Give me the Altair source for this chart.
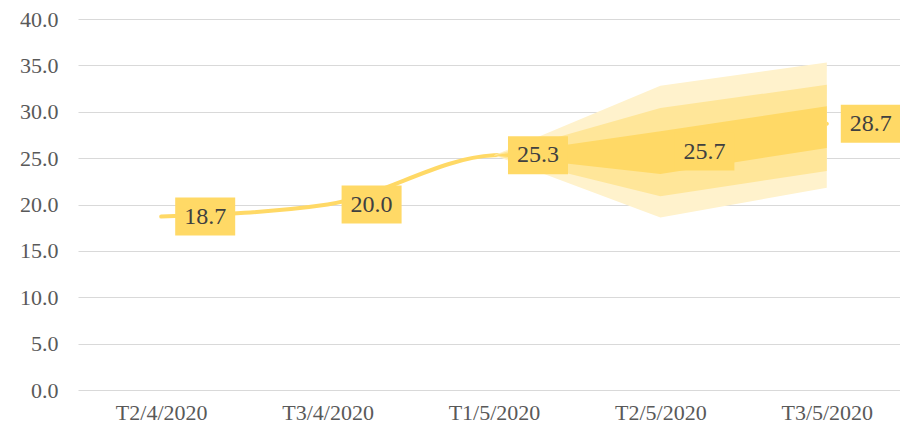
import json
import altair as alt
import pandas as pd

categories = ["T2/4/2020", "T3/4/2020", "T1/5/2020", "T2/5/2020", "T3/5/2020"]
values = [18.7, 20.0, 25.3, 25.7, 28.7]

# fan chart bands (start at T1/5/2020)
fan_idx = [2, 3, 4]
light_lo = [25.3, 18.6, 21.8]
light_hi = [25.3, 32.8, 35.3]
mid_lo = [25.3, 20.9, 23.6]
mid_hi = [25.3, 30.4, 32.9]
dark_lo = [25.3, 23.3, 26.1]
dark_hi = [25.3, 27.9, 30.6]

C_DARK = "#FFD966"
C_MID = "#FFE699"
C_LIGHT = "#FFF2CC"

df = pd.DataFrame({"i": list(range(len(categories))), "cat": categories, "v": values})
fan = pd.DataFrame({
    "i": fan_idx,
    "llo": light_lo, "lhi": light_hi,
    "mlo": mid_lo, "mhi": mid_hi,
    "dlo": dark_lo, "dhi": dark_hi,
})

label_expr = json.dumps(categories) + "[datum.value]"
FONT = "Liberation Serif"

xscale = alt.Scale(domain=[-0.5, 4.44], nice=False, zero=False)
yscale = alt.Scale(domain=[0, 40], nice=False)

x_axis = alt.Axis(values=[0, 1, 2, 3, 4], labelExpr=label_expr, grid=False, domain=False,
                  ticks=False, title=None, labelFont=FONT, labelFontSize=22,
                  labelColor="#595959", labelPadding=12)
y_axis = alt.Axis(values=[0, 5, 10, 15, 20, 25, 30, 35, 40], format=".1f", grid=True,
                  gridColor="#d9d9d9", gridWidth=1.2, domain=False, ticks=False, title=None,
                  labelFont=FONT, labelFontSize=22, labelColor="#595959", labelPadding=20)

X = alt.X("i:Q", scale=xscale, axis=x_axis)

line = alt.Chart(df).mark_line(color=C_DARK, strokeWidth=4, interpolate="monotone",
                               strokeCap="round").encode(
    x=X, y=alt.Y("v:Q", scale=yscale, axis=y_axis))

def band(lo, hi, color):
    return alt.Chart(fan).mark_area(color=color, opacity=1).encode(
        x=alt.X("i:Q", scale=xscale, axis=x_axis),
        y=alt.Y(f"{lo}:Q", scale=yscale, axis=y_axis),
        y2=f"{hi}:Q")

boxes = alt.Chart(df).mark_point(
    shape="M-1,-0.633L1,-0.633L1,0.633L-1,0.633Z", filled=True, opacity=1,
    color=C_DARK, size=3600, xOffset=44, strokeWidth=0).encode(
    x=alt.X("i:Q", scale=xscale, axis=x_axis), y=alt.Y("v:Q", scale=yscale, axis=y_axis))

texts = alt.Chart(df).mark_text(font=FONT, fontSize=24, color="#404040", xOffset=44,
                                baseline="middle", align="center").encode(
    x=alt.X("i:Q", scale=xscale, axis=x_axis), y=alt.Y("v:Q", scale=yscale, axis=y_axis),
    text=alt.Text("v:Q", format=".1f"))

chart = alt.layer(
    line,
    band("llo", "lhi", C_LIGHT),
    band("mlo", "mhi", C_MID),
    band("dlo", "dhi", C_DARK),
    boxes, texts,
).properties(
    width=822, height=371,
    autosize=alt.AutoSizeParams(type="none"),
    padding={"left": 70, "top": 11, "right": 0, "bottom": 34},
    background="white",
).configure_view(stroke="transparent", strokeWidth=0)

chart.save("out.html", embed_options={"renderer": "svg", "actions": False})
